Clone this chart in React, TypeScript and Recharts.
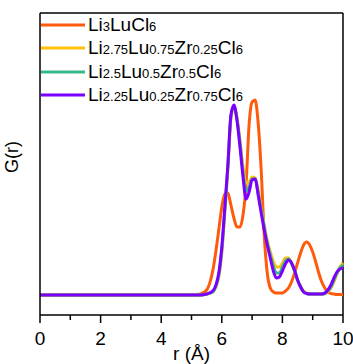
import React from 'react';
import { LineChart, Line, XAxis, YAxis, Legend, ReferenceLine, Label } from 'recharts';

// r (Å)
const rValues = [0, 1, 2, 3, 4, 5, 5.3, 5.5, 5.7, 5.9, 6.0, 6.1, 6.2, 6.3, 6.4, 6.5, 6.6, 6.7, 6.8, 6.9, 7.0, 7.1, 7.2, 7.3, 7.4, 7.5, 7.6, 7.7, 7.8, 7.9, 8.0, 8.1, 8.2, 8.3, 8.4, 8.5, 8.6, 8.7, 8.8, 8.9, 9.0, 9.1, 9.2, 9.3, 9.4, 9.5, 9.6, 9.7, 9.8, 9.9, 10];

// G(r), arbitrary units
const gLi3LuCl6 = [0, 0, 0, 0, 0, 0, 1, 5, 24, 65, 88, 101, 102, 90, 77, 68, 68, 80, 110, 170, 193, 195, 172, 125, 60, 22, 7, 3, 2, 2, 2, 4, 7, 13, 22, 32, 42, 50, 53, 50, 43, 33, 22, 13, 7, 3, 1.5, 1, 0.5, 0.5, 0.5];
const gZr025 = [0, 0, 0, 0, 0, 0, 0, 1, 3, 18, 42, 82, 125, 175, 189, 178, 155, 128, 112, 113, 118, 117, 105, 87, 70, 55, 43, 34, 28, 28, 32, 37, 37, 32, 24, 15, 9, 4, 2, 1, 1, 1, 1, 1, 1.5, 3, 7, 13, 21, 28, 32];
const gZr05 = [0, 0, 0, 0, 0, 0, 0, 1, 3, 20, 45, 85, 128, 178, 189, 176, 152, 123, 104, 108, 116, 116, 102, 85, 68, 52, 40, 29, 22, 22, 28, 34, 36, 32, 24, 15, 8, 3, 1.5, 1, 1, 1, 1, 1, 1.5, 4, 8, 15, 22, 27, 30];
const gZr075 = [0, 0, 0, 0, 0, 0, 0, 1, 4, 22, 48, 88, 130, 180, 190, 175, 148, 118, 96, 103, 115, 116, 100, 82, 65, 50, 37, 24, 17, 18, 24, 31, 35, 32, 25, 15, 8, 3, 1.5, 1, 1, 1, 1, 1, 2, 5, 10, 17, 23, 26, 27];

const seriesKeys = ['a', 'b', 'c', 'd'];
const seriesNames = ['Li3LuCl6', 'Li2.75Lu0.75Zr0.25Cl6', 'Li2.5Lu0.5Zr0.5Cl6', 'Li2.25Lu0.25Zr0.75Cl6'];
const seriesColors = ['#ff5b0c', '#ffc00e', '#36b98a', '#7b00ff'];
const seriesValues = [gLi3LuCl6, gZr025, gZr05, gZr075];

const xTicks = [0, 1, 2, 3, 4, 5, 6, 7, 8, 9, 10];
const yMin = -20;
const yMax = 282;

const data = rValues.map((r, i) => {
  const row: Record<string, number> = { r };
  seriesKeys.forEach((k, j) => {
    row[k] = seriesValues[j][i];
  });
  return row;
});

const FONT = '"Liberation Sans", Arial, sans-serif';

// chemical formula: numbers become subscripts
const Formula = ({ text }: { text: string }) => {
  const parts = text.split(/(\d+(?:\.\d+)?)/).filter((p) => p !== '');
  return (
    <span>
      {parts.map((p, i) =>
        /^\d/.test(p) ? (
          <span key={i} style={{ fontSize: 13 }}>{p}</span>
        ) : (
          <span key={i}>{p}</span>
        )
      )}
    </span>
  );
};

const renderLegend = () => (
  <div style={{ fontFamily: FONT, fontSize: 19, color: '#000' }}>
    {seriesNames.map((name, i) => (
      <div key={name} style={{ display: 'flex', alignItems: 'center', height: 23.5 }}>
        <svg width={47} height={6} style={{ display: 'block' }}>
          <line x1={0} x2={44} y1={3} y2={3} stroke={seriesColors[i]} strokeWidth={3} />
        </svg>
        <Formula text={name} />
      </div>
    ))}
  </div>
);

const XTick = (props: any) => {
  const { x, y, payload } = props;
  const axisY = y - 8;
  const major = payload.value % 2 === 0;
  return (
    <g>
      <line x1={x} x2={x} y1={axisY} y2={axisY + (major ? 8 : 5)} stroke="#000" strokeWidth={1.5} />
      {major && (
        <text x={x} y={axisY + 29.5} textAnchor="middle" fontSize={19} fill="#000" fontFamily={FONT}>
          {payload.value}
        </text>
      )}
    </g>
  );
};

const YLabel = (props: any) => {
  const { viewBox } = props;
  const cx = 12;
  const cy = viewBox.y + viewBox.height / 2 - 7;
  return (
    <text x={cx} y={cy} transform={`rotate(-90, ${cx}, ${cy})`} textAnchor="middle" dominantBaseline="central" fontSize={18} fill="#000" fontFamily={FONT}>
      G(r)
    </text>
  );
};

const App = () => {
  return (
    <div style={{ position: 'absolute', left: 0, top: 0 }}>
      <LineChart width={353} height={364} data={data} margin={{ top: 13, right: 10, bottom: 0, left: 0 }} style={{ fontFamily: FONT }}>
        <XAxis
          dataKey="r"
          type="number"
          domain={[0, 10]}
          ticks={xTicks}
          interval={0}
          height={49}
          tickSize={8}
          tickMargin={0}
          tickLine={false}
          tick={<XTick />}
          axisLine={{ stroke: '#000', strokeWidth: 1.5 }}
        >
          <Label value="r (Å)" position="insideBottom" offset={4} fontSize={19} fill="#000" />
        </XAxis>
        <YAxis
          type="number"
          domain={[yMin, yMax]}
          allowDataOverflow
          width={40}
          tick={false}
          tickLine={false}
          axisLine={{ stroke: '#000', strokeWidth: 1.5 }}
        >
          <Label content={<YLabel />} />
        </YAxis>
        <ReferenceLine y={yMax} stroke="#000" strokeWidth={1.5} />
        <ReferenceLine x={10} stroke="#000" strokeWidth={1.5} />
        <Legend
          layout="vertical"
          align="center"
          verticalAlign="middle"
          content={renderLegend}
          wrapperStyle={{ top: 13, left: 41, width: 'auto', height: 'auto' }}
        />
        {seriesKeys.map((k, i) => (
          <Line
            key={k}
            type="monotone"
            dataKey={k}
            name={seriesNames[i]}
            stroke={seriesColors[i]}
            strokeWidth={3}
            dot={false}
            activeDot={false}
            isAnimationActive={false}
          />
        ))}
      </LineChart>
    </div>
  );
};

export default App;
